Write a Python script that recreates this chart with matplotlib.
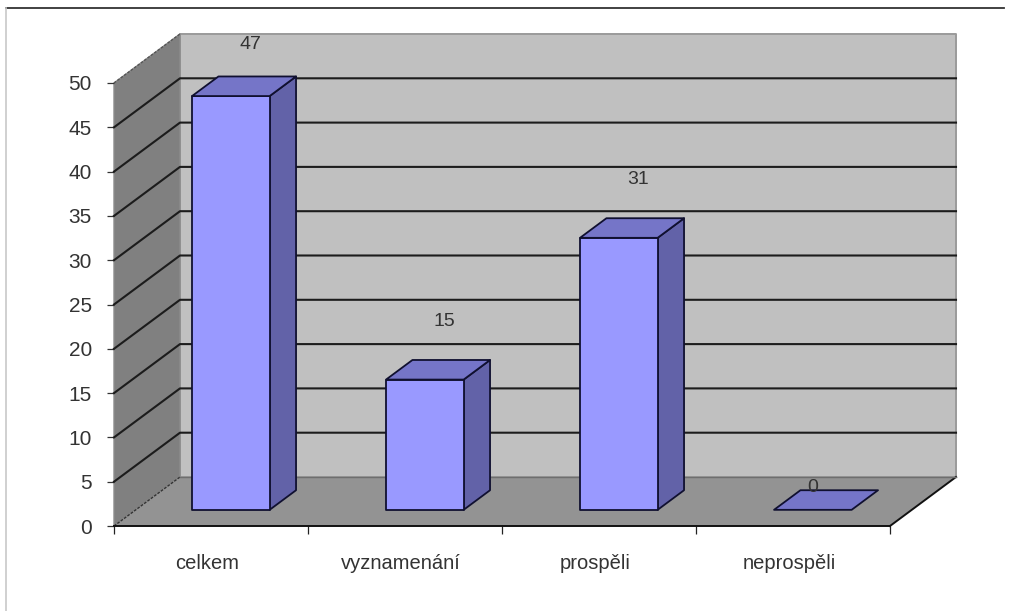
import matplotlib
matplotlib.use('Agg')
import matplotlib.pyplot as plt
from matplotlib.lines import Line2D
from matplotlib.patches import Polygon

categories = ['celkem', 'vyznamenání', 'prospěli', 'neprospěli']
values = [47, 15, 31, 0]
y_ticks = [0, 5, 10, 15, 20, 25, 30, 35, 40, 45, 50]

W, H = 1013, 611
plt.rcParams['font.family'] = ['Liberation Sans', 'DejaVu Sans']

fig = plt.figure(figsize=(W / 100, H / 100), dpi=100, facecolor='white')
# front plane of the 3d box
ax = fig.add_axes([114 / W, 1 - 526 / H, 776 / W, 443 / H])
ax.set_xlim(0, 4)
ax.set_ylim(0, 50)
ax.patch.set_visible(False)

# oblique depth, in data units
depth_x = 66 / 194
depth_y = 49 / 8.86
bar_w = 0.4
d_front = 0.33
d_back = 0.73


def pt(x, y, d=0.0):
    return (x + d * depth_x, y + d * depth_y)


def face(points, color, edge='none', lw=0.0, z=1):
    ax.add_patch(Polygon(points, closed=True, facecolor=color, edgecolor=edge,
                         linewidth=lw, zorder=z, clip_on=False, joinstyle='round'))


# walls and floor
face([pt(0, 0, 1), pt(4, 0, 1), pt(4, 50, 1), pt(0, 50, 1)], '#c0c0c0', '#9a9a9a', 1.4, 1)
face([pt(0, 0), pt(0, 0, 1), pt(0, 50, 1), pt(0, 50)], '#808080', '#8c8c8c', 1.0, 1)

# gridlines
for t in y_ticks[1:-1]:
    xs, ys = zip(pt(0, t), pt(0, t, 1), pt(4, t, 1))
    ax.plot(xs, ys, color='#1c1c1c', lw=1.5, zorder=2, clip_on=False)
xs, ys = zip(pt(0, 50), pt(0, 50, 1))
ax.plot(xs, ys, color='#555555', lw=1.0, ls=(0, (2, 1)), zorder=2, clip_on=False)

face([pt(0, 0), pt(4, 0), pt(4, 0, 1), pt(0, 0, 1)], '#939393', z=3)
xs, ys = zip(pt(0, 0), pt(0, 0, 1))
ax.plot(xs, ys, color='#333333', lw=1.0, ls=(0, (2, 1)), zorder=4, clip_on=False)
xs, ys = zip(pt(4, 0), pt(4, 0, 1))
ax.plot(xs, ys, color='#111111', lw=1.4, zorder=4, clip_on=False)
xs, ys = zip(pt(0, 0, 1), pt(4, 0, 1))
ax.plot(xs, ys, color='#6e6e6e', lw=1.0, zorder=4, clip_on=False)

# bars
for i, v in enumerate(values):
    c = i + 0.49
    x0 = c - bar_w / 2
    x1 = c + bar_w / 2
    edge = '#101030'
    # top of the bars reads a touch under the gridline scale in the original
    h = max(v - 0.3, 0)
    if v > 0:
        face([pt(x1, 0, d_front), pt(x1, 0, d_back), pt(x1, h, d_back), pt(x1, h, d_front)],
             '#6262a8', edge, 1.3, 5)
        face([pt(x0, 0, d_front), pt(x1, 0, d_front), pt(x1, h, d_front), pt(x0, h, d_front)],
             '#9999ff', edge, 1.3, 6)
    face([pt(x0, h, d_front), pt(x1, h, d_front), pt(x1, h, d_back), pt(x0, h, d_back)],
         '#7575c8', edge, 1.3, 6)
    # data labels sit above the bar, kept inside the top of the back wall
    off = 6.3 if v > 0 else 2.5
    lx, ly = pt(c + (0.1 if v > 0 else 0.0), v + off, d_front)
    ly = min(ly, 54.3)
    ax.text(lx, ly, str(v), ha='center', va='center', fontsize=14,
            color='#333333', zorder=7, clip_on=False)

# axes and ticks
for s in ['top', 'right', 'left']:
    ax.spines[s].set_visible(False)
ax.spines['bottom'].set_color('#111111')
ax.spines['bottom'].set_linewidth(1.4)
ax.spines['bottom'].set_zorder(8)
ax.set_yticks(y_ticks)
ax.set_xticks(range(5))
ax.set_xticklabels([])
ax.set_xticks([i + 0.48 for i in range(4)], minor=True)
ax.set_xticklabels(categories, minor=True)
ax.tick_params(axis='y', length=5, width=0.9, color='#333333', pad=11,
               labelsize=15, labelcolor='#333333')
ax.tick_params(axis='x', which='major', length=6, width=0.9, color='#222222')
ax.tick_params(axis='x', which='minor', length=0, pad=20, labelsize=14.5, labelcolor='#333333')

# picture frame
fig.add_artist(Line2D([6 / W, 1004 / W], [1 - 8 / H, 1 - 8 / H], color='#333333', lw=1.3))
fig.add_artist(Line2D([6 / W, 6 / W], [1 - 8 / H, 0], color='#c8c8c8', lw=1.2))

fig.savefig('out.png', dpi=100)
